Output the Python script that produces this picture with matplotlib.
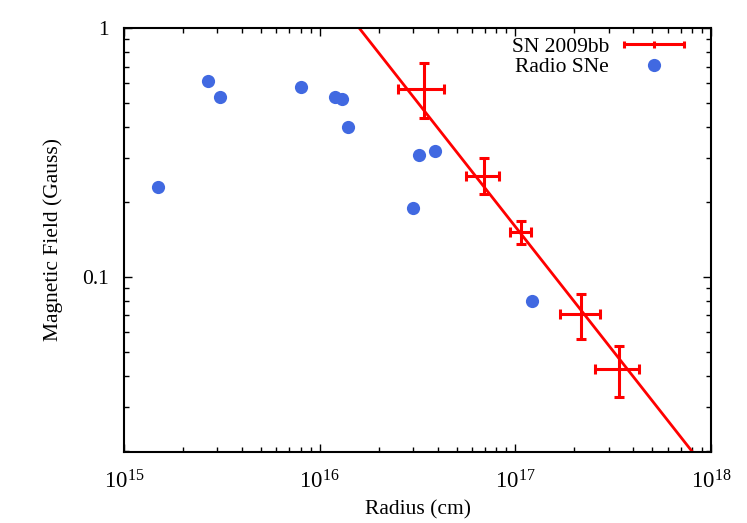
#!/usr/bin/env python3

import numpy as np
import matplotlib
matplotlib.use("Agg")
import matplotlib.pyplot as plt
from matplotlib.lines import Line2D
from matplotlib.legend_handler import HandlerBase
from matplotlib.ticker import LogFormatterMathtext, NullFormatter, LogLocator

# ---- data ----
radio_r = [1.5e15, 2.7e15, 3.1e15, 8.0e15, 1.2e16, 1.3e16, 1.4e16, 3.2e16, 3.9e16, 3.0e16, 1.22e17]
radio_b = [0.23, 0.61, 0.53, 0.58, 0.53, 0.52, 0.40, 0.31, 0.32, 0.19, 0.080]

sn_r = [3.4e16, 6.9e16, 1.065e17, 2.16e17, 3.4e17]
sn_r_lo = [2.5e16, 5.6e16, 9.4e16, 1.69e17, 2.55e17]
sn_r_hi = [4.3e16, 8.2e16, 1.2e17, 2.69e17, 4.3e17]
sn_b = [0.57, 0.255, 0.152, 0.0712, 0.0425]
sn_b_lo = [0.435, 0.216, 0.136, 0.0565, 0.033]
sn_b_hi = [0.72, 0.30, 0.168, 0.0857, 0.0527]

# power-law fit B = b0 * (r / r0)^index
fit_b0 = 0.1
fit_r0 = 1.59e17
fit_index = -1.0

plt.rcParams["font.family"] = ["Liberation Serif", "DejaVu Serif"]
plt.rcParams["mathtext.fontset"] = "custom"
plt.rcParams["mathtext.rm"] = "Liberation Serif"
plt.rcParams["mathtext.it"] = "Liberation Serif:italic"
plt.rcParams["font.size"] = 15.5


class HandlerXErr(HandlerBase):
    """Horizontal error bar legend sample (gnuplot style)."""
    def create_artists(self, legend, orig_handle, xdescent, ydescent,
                       width, height, fontsize, trans):
        y = height / 2 - ydescent
        x0, x1 = -xdescent, width - xdescent
        cap = 0.17 * fontsize
        kw = dict(color="red", lw=2.2, transform=trans, solid_capstyle="butt")
        arts = [Line2D([x0, x1], [y, y], **kw)]
        for xx in (x0, (x0 + x1) / 2, x1):
            arts.append(Line2D([xx, xx], [y - cap, y + cap], **kw))
        return arts


fig = plt.figure(figsize=(7.47, 5.23), dpi=100)
ax = fig.add_axes([0.166, 0.1358, 0.786, 0.8107])

r = np.array(sn_r)
b = np.array(sn_b)
xerr = [r - np.array(sn_r_lo), np.array(sn_r_hi) - r]
yerr = [b - np.array(sn_b_lo), np.array(sn_b_hi) - b]

r_fit = np.logspace(15, 18, 200)
ax.plot(r_fit, fit_b0 * (r_fit / fit_r0) ** fit_index, color="red", lw=2.0, zorder=2)

ax.errorbar(r, b, xerr=xerr, yerr=yerr, fmt="none", ecolor="red",
            elinewidth=2.2, capsize=3.5, capthick=2.2, zorder=3)

ax.plot(radio_r, radio_b, "o", color="#4169e1", markersize=9.5, mec="none", zorder=4)

ax.set_xscale("log")
ax.set_yscale("log")
ax.set_xlim(1e15, 1e18)
ax.set_ylim(0.0198, 1)

ax.xaxis.set_major_locator(LogLocator(base=10, numticks=10))
ax.xaxis.set_major_formatter(LogFormatterMathtext())
ax.xaxis.set_minor_locator(LogLocator(base=10, subs=np.arange(2, 10), numticks=20))
ax.xaxis.set_minor_formatter(NullFormatter())
ax.set_yticks([0.1, 1])
ax.set_yticklabels(["0.1", "1"])
ax.yaxis.set_minor_locator(LogLocator(base=10, subs=np.arange(2, 10), numticks=20))
ax.yaxis.set_minor_formatter(NullFormatter())

ax.tick_params(which="both", direction="in", top=True, right=True, width=1.0)
ax.tick_params(which="major", length=6, pad=11)
ax.tick_params(axis="x", which="major", labelsize=16.5, pad=13)
ax.tick_params(which="minor", length=3.5)
for s in ax.spines.values():
    s.set_linewidth(1.5)

ax.set_xlabel("Radius (cm)", labelpad=5)
ax.set_ylabel("Magnetic Field (Gauss)", labelpad=14)

sn_handle = Line2D([], [], color="red")
radio_handle = Line2D([], [], ls="none", marker="o", color="#4169e1", markersize=9.5, mec="none")
ax.legend([sn_handle, radio_handle], ["SN 2009bb", "Radio SNe"],
          handler_map={sn_handle: HandlerXErr()},
          loc="upper right", bbox_to_anchor=(1 - 14 / 587, 1 + 4 / 424),
          frameon=False, markerfirst=False,
          handlelength=2.8, handletextpad=0.7, labelspacing=0.0,
          borderaxespad=0.0, borderpad=0.6, fontsize=15.5)

fig.savefig("out.png", dpi=100)
plt.close(fig)
